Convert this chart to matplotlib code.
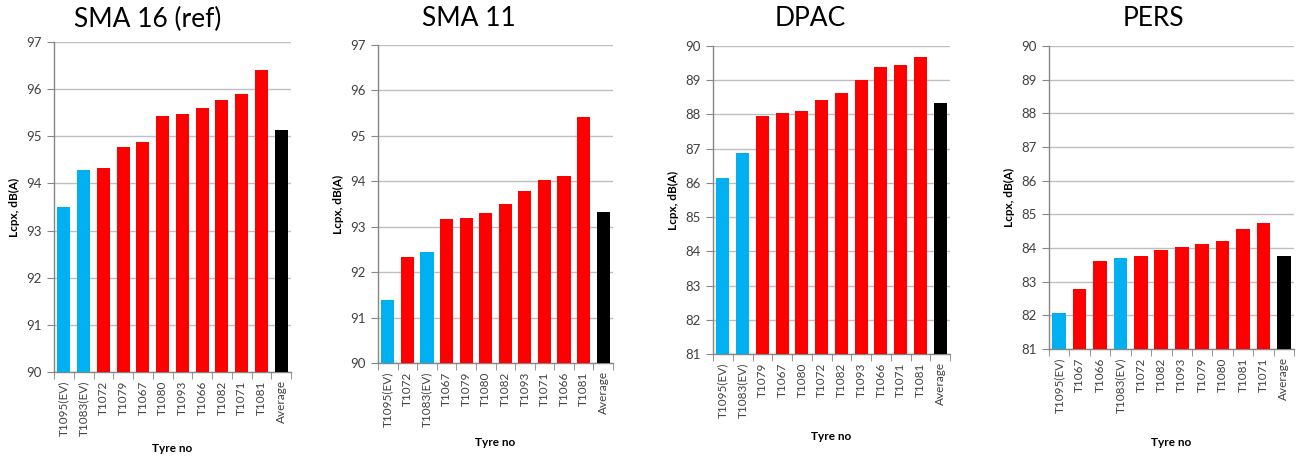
import matplotlib
matplotlib.use("Agg")
import matplotlib.pyplot as plt

plt.rcParams['font.family'] = ['Lato', 'DejaVu Sans']

# Pass-by noise levels (Lcpx) per road surface, tyres sorted as tested
titles = ["SMA 16 (ref)", "SMA 11", "DPAC", "PERS"]

sma16_tyres = ["T1095(EV)", "T1083(EV)", "T1072", "T1079", "T1067", "T1080",
               "T1093", "T1066", "T1082", "T1071", "T1081", "Average"]
sma16_values = [93.50, 94.29, 94.32, 94.77, 94.87, 95.43, 95.47, 95.59,
                95.78, 95.90, 96.40, 95.13]

sma11_tyres = ["T1095(EV)", "T1072", "T1083(EV)", "T1067", "T1079", "T1080",
               "T1082", "T1093", "T1071", "T1066", "T1081", "Average"]
sma11_values = [91.38, 92.34, 92.45, 93.16, 93.19, 93.30, 93.50, 93.78,
                94.03, 94.11, 95.42, 93.33]

dpac_tyres = ["T1095(EV)", "T1083(EV)", "T1079", "T1067", "T1080", "T1072",
              "T1082", "T1093", "T1066", "T1071", "T1081", "Average"]
dpac_values = [86.15, 86.86, 87.94, 88.05, 88.11, 88.41, 88.63, 89.01,
               89.38, 89.44, 89.69, 88.34]

pers_tyres = ["T1095(EV)", "T1067", "T1066", "T1083(EV)", "T1072", "T1082",
              "T1093", "T1079", "T1080", "T1081", "T1071", "Average"]
pers_values = [82.07, 82.78, 83.60, 83.70, 83.77, 83.95, 84.03, 84.13,
               84.22, 84.57, 84.74, 83.77]

y_ranges = [(90, 97), (90, 97), (81, 90), (81, 90)]

panels = [
    (sma16_tyres, sma16_values),
    (sma11_tyres, sma11_values),
    (dpac_tyres, dpac_values),
    (pers_tyres, pers_values),
]

# axes boxes in pixels: left, right, top, bottom
W, H = 1297, 459
boxes = [(54, 291, 42, 372), (378, 613, 45, 363), (713, 950, 46, 354), (1049, 1294, 46, 349)]
title_x = [148, 469, 810, 1153]
xlabel_y = [449, 442, 437, 443]

BLUE, RED, BLACK = "#00B0F0", "#FF0000", "#000000"
GRID = "#BFBFBF"
AXIS = "#868686"
TEXT = "#404040"


def bar_color(name):
    if name == "Average":
        return BLACK
    if "(EV)" in name:
        return BLUE
    return RED


fig = plt.figure(figsize=(W / 100, H / 100), dpi=100)

for i, ((tyres, values), (l, r, t, b)) in enumerate(zip(panels, boxes)):
    ax = fig.add_axes([l / W, 1 - b / H, (r - l) / W, (b - t) / H])
    n = len(tyres)
    xs = list(range(n))
    ax.bar(xs, values, width=0.67, color=[bar_color(s) for s in tyres], zorder=3)
    ax.set_xlim(-0.5, n - 0.5)
    lo, hi = y_ranges[i]
    ax.set_ylim(lo, hi)
    ax.set_yticks(range(lo, hi + 1))

    ax.set_xticks(xs)
    ax.set_xticklabels(tyres, rotation=90, fontsize=8.5, color=TEXT)
    ax.set_xticks([x - 0.5 for x in range(n + 1)], minor=True)
    ax.tick_params(axis="x", which="major", length=0, pad=6)
    ax.tick_params(axis="x", which="minor", length=5, color=AXIS, direction="out")
    ax.tick_params(axis="y", length=5, color=AXIS, direction="out",
                   labelsize=9.5, labelcolor=TEXT, pad=4)

    ax.yaxis.grid(True, color=GRID, lw=1)
    ax.set_axisbelow(True)
    for side in ("top", "right"):
        ax.spines[side].set_visible(False)
    for side in ("left", "bottom"):
        ax.spines[side].set_color(AXIS)
        ax.spines[side].set_linewidth(1)

    fig.text(title_x[i] / W, 1 - 19 / H, titles[i], ha="center", va="center",
             fontsize=19, color="black")
    fig.text((l - 40) / W, 1 - ((t + b) / 2) / H, "Lcpx, dB(A)", rotation=90,
             ha="center", va="center", fontsize=8.5, fontweight="bold")
    fig.text(((l + r) / 2) / W, 1 - xlabel_y[i] / H, "Tyre no", ha="center",
             va="center", fontsize=8.5, fontweight="bold")

fig.savefig("out.png", dpi=100)
